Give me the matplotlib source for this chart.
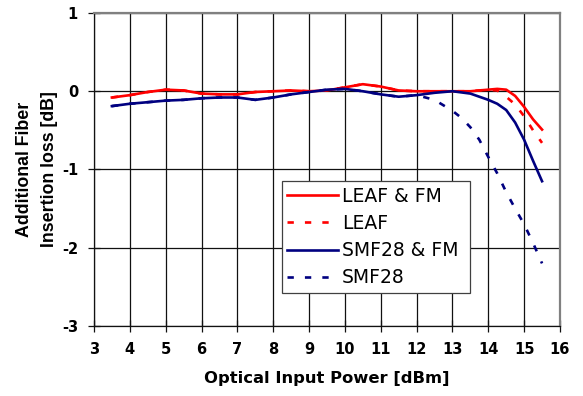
import matplotlib
matplotlib.use('Agg')
import matplotlib.pyplot as plt

plt.rcParams['axes.unicode_minus'] = False

# optical input power [dBm] and additional insertion loss [dB]
leaf_fm_x = [3.5, 4.0, 4.5, 5.0, 5.5, 6.0, 6.5, 7.0, 7.5, 8.0, 8.5, 9.0, 9.5,
             10.0, 10.5, 11.0, 11.5, 12.0, 12.5, 13.0, 13.5, 14.0, 14.25,
             14.5, 14.75, 15.0, 15.25, 15.5]
leaf_fm_y = [-0.08, -0.05, -0.01, 0.02, 0.01, -0.03, -0.04, -0.04, -0.01, 0.0,
             0.01, 0.0, 0.01, 0.05, 0.09, 0.06, 0.01, 0.0, 0.0, 0.0, 0.0, 0.02,
             0.03, 0.02, -0.06, -0.2, -0.36, -0.49]

leaf_x = [3.5, 4.0, 4.5, 5.0, 5.5, 6.0, 6.5, 7.0, 7.5, 8.0, 8.5, 9.0, 9.5,
          10.0, 10.5, 11.0, 11.5, 12.0, 12.5, 13.0, 13.5, 14.0, 14.25,
          14.5, 14.75, 15.0, 15.25, 15.5]
leaf_y = [-0.08, -0.05, -0.01, 0.02, 0.01, -0.03, -0.04, -0.04, -0.01, 0.0,
          0.01, 0.0, 0.01, 0.05, 0.09, 0.06, 0.01, 0.0, 0.0, 0.0, 0.0, 0.02,
          0.01, -0.07, -0.17, -0.32, -0.50, -0.66]

smf_fm_x = [3.5, 4.0, 4.5, 5.0, 5.5, 6.0, 6.5, 7.0, 7.5, 8.0, 8.5, 9.0, 9.5,
            10.0, 10.5, 11.0, 11.5, 12.0, 12.5, 13.0, 13.5, 14.0, 14.25,
            14.5, 14.75, 15.0, 15.25, 15.5]
smf_fm_y = [-0.19, -0.16, -0.14, -0.12, -0.11, -0.09, -0.08, -0.08, -0.11,
            -0.08, -0.04, -0.01, 0.02, 0.03, 0.0, -0.04, -0.07, -0.05, -0.02,
            0.0, -0.03, -0.11, -0.16, -0.24, -0.40, -0.62, -0.89, -1.15]

smf_x = [3.5, 4.0, 4.5, 5.0, 5.5, 6.0, 6.5, 7.0, 7.5, 8.0, 8.5, 9.0, 9.5,
         10.0, 10.5, 11.0, 11.5, 12.0, 12.5, 13.0, 13.25, 13.5, 13.75, 14.0,
         14.25, 14.5, 14.75, 15.0, 15.25, 15.5]
smf_y = [-0.19, -0.16, -0.14, -0.12, -0.11, -0.09, -0.08, -0.08, -0.11,
         -0.08, -0.04, -0.01, 0.02, 0.03, 0.0, -0.04, -0.07, -0.05, -0.11,
         -0.25, -0.34, -0.46, -0.62, -0.84, -1.05, -1.29, -1.50, -1.70,
         -1.94, -2.2]

x_ticks = list(range(3, 17))
y_ticks = [1, 0, -1, -2, -3]

RED = '#ff0000'
NAVY = '#000080'

fig = plt.figure(figsize=(5.83, 3.96), dpi=100)
ax = fig.add_axes([0.1612, 0.1768, 0.7993, 0.7904])

ax.plot(leaf_fm_x, leaf_fm_y, color=RED, lw=1.9, label='LEAF & FM')
ax.plot(leaf_x, leaf_y, color=RED, lw=1.9, dashes=(2.4, 4.2), label='LEAF')
ax.plot(smf_fm_x, smf_fm_y, color=NAVY, lw=1.9, label='SMF28 & FM')
ax.plot(smf_x, smf_y, color=NAVY, lw=1.9, dashes=(2.4, 4.2), label='SMF28')

ax.set_xlim(3, 16)
ax.set_ylim(-3, 1)
ax.set_xticks(x_ticks)
ax.set_yticks(y_ticks)
ax.grid(True, color='#111111', lw=0.9)
ax.set_axisbelow(True)
ax.tick_params(direction='inout', length=9, width=0.9, color='#111111',
               pad=7)
for lab in ax.get_xticklabels() + ax.get_yticklabels():
    lab.set_fontproperties(dict(family='DejaVu Sans', weight='bold',
                                size=10.5))

for side in ('left', 'bottom'):
    ax.spines[side].set_color('#111111')
    ax.spines[side].set_linewidth(0.9)
for side in ('top', 'right'):
    ax.spines[side].set_color('#808080')
    ax.spines[side].set_linewidth(1.6)

ax.set_xlabel('Optical Input Power [dBm]', fontsize=11.8, labelpad=10,
              family='DejaVu Sans', weight='bold')
ax.set_ylabel('Additional Fiber\nInsertion loss [dB]', fontsize=12.8,
              labelpad=3, linespacing=1.55, family='Liberation Sans',
              weight='bold')

leg = ax.legend(loc='upper left', bbox_to_anchor=(0.403, 0.112, 0.404, 0.351),
                mode='expand', borderaxespad=0, fancybox=False, framealpha=1,
                edgecolor='#404040', handlelength=2.7, handletextpad=0.2,
                labelspacing=0.44, borderpad=0.3,
                prop=dict(family='DejaVu Sans', size=13.5))
leg.get_frame().set_linewidth(0.9)

fig.savefig('out.png', dpi=100)
